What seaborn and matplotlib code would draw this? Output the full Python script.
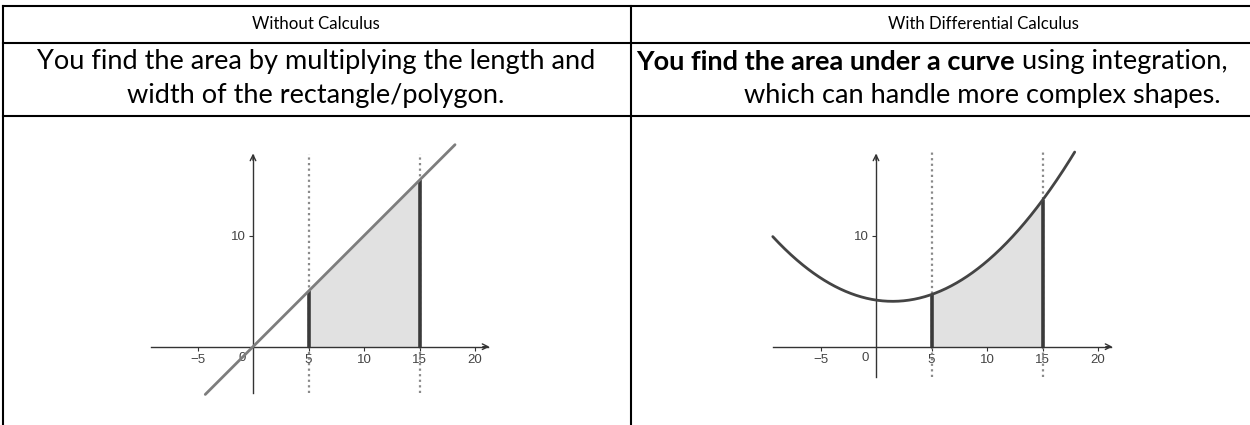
import numpy as np
import pandas as pd
import matplotlib
matplotlib.use("Agg")
import matplotlib.pyplot as plt
from matplotlib.lines import Line2D
import seaborn as sns

# ---- content ----
headers = ["Without Calculus", "With Differential Calculus"]
left_desc = ["You find the area by multiplying the length and",
             "width of the rectangle/polygon."]
right_desc_bold = "You find the area under a curve"
right_desc_rest = " using integration,"
right_desc_line2 = "which can handle more complex shapes."

# straight line y = slope * x (left panel)
line_slope = 1.0
line_x_range = [-4.3, 18.2]
# parabola y = a x^2 + b x + c (right panel)
curve_coeffs = [0.05, -0.15, 4.2]
curve_x_range = [-9.3, 17.9]
# integration bounds
bounds = [5, 15]
x_ticks = [-5, 5, 10, 15, 20]
y_ticks = [10]

W, H = 1250, 425
sns.set_theme(style="white")
plt.rcParams["font.family"] = ["Lato", "DejaVu Sans"]

fig = plt.figure(figsize=(W / 100, H / 100), dpi=100)
fig.patch.set_facecolor("white")
renderer = fig.canvas.get_renderer()


def fx(px):
    return px / W


def fy(py):
    return 1 - py / H


def size_for_width(s, width_px, **kw):
    """Font size at which string s renders width_px wide."""
    t = fig.text(0, 0, s, fontsize=20, **kw)
    w = t.get_window_extent(renderer).width
    t.remove()
    return 20 * width_px / w


def put(x_px, y_px, s, size, ha="center", **kw):
    return fig.text(fx(x_px), fy(y_px), s, ha=ha, va="center", color="black",
                    fontsize=size, **kw)


# ---- table grid ----
grid_kw = dict(color="black", lw=1.5, transform=fig.transFigure, solid_capstyle="projecting")
for y in (6, 43, 116):
    fig.add_artist(Line2D([fx(3), fx(W)], [fy(y), fy(y)], **grid_kw))
for x in (3, 631):
    fig.add_artist(Line2D([fx(x), fx(x)], [fy(6), fy(H)], **grid_kw))

# ---- text ----
head_size = size_for_width(headers[0], 128)
desc_size = size_for_width(left_desc[0], 561)

put(316, 24, headers[0], head_size)
put(983, 24, headers[1], head_size)
put(316, 62, left_desc[0], desc_size)
put(316, 95, left_desc[1], desc_size)
put(982, 95, right_desc_line2, desc_size)

tb = put(0, 62, right_desc_bold, desc_size, ha="left", fontweight="bold")
tr = put(0, 62, right_desc_rest, desc_size, ha="left")
wb = tb.get_window_extent(renderer).width
wr = tr.get_window_extent(renderer).width
x0 = 931.5 - (wb + wr) / 2
tb.set_x(fx(x0))
tr.set_x(fx(x0 + wb))

# ---- plot panels ----
px_per_unit = 11.1
axis_y_px = 346.7
tick_font = ["Liberation Sans", "DejaVu Sans"]
axis_color = "#333333"


def make_axes(left_px, right_px, origin_px):
    top_px, bot_px = 140, 410
    ax = fig.add_axes([fx(left_px), fy(bot_px), (right_px - left_px) / W, (bot_px - top_px) / H])
    ax.set_xlim((left_px - origin_px) / px_per_unit, (right_px - origin_px) / px_per_unit)
    ax.set_ylim((axis_y_px - bot_px) / px_per_unit, (axis_y_px - top_px) / px_per_unit)
    ax.patch.set_alpha(0)
    for s in ("top", "right"):
        ax.spines[s].set_visible(False)
    for s in ("left", "bottom"):
        ax.spines[s].set_position(("data", 0))
        ax.spines[s].set_color(axis_color)
        ax.spines[s].set_linewidth(1.0)
    ax.set_xticks(x_ticks)
    ax.set_yticks(y_ticks)
    ax.set_xticklabels([str(t).replace("-", "\u2212") for t in x_ticks])
    ax.set_yticklabels([str(t) for t in y_ticks])
    ax.tick_params(axis="both", which="major", bottom=True, left=True, direction="out",
                   length=3, width=0.8, color=axis_color, labelsize=9.5,
                   labelcolor="#444444", pad=2)
    for lab in ax.get_xticklabels() + ax.get_yticklabels():
        lab.set_fontfamily(tick_font)
    ax.text(-1.0, -0.45, "0", ha="center", va="top", fontsize=9.5, color="#444444",
            family=tick_font)
    return ax


def axis_arrows(ax, xlo, xhi, ylo, yhi):
    ax.spines["bottom"].set_bounds(xlo, xhi)
    ax.spines["left"].set_bounds(ylo, yhi)
    ap = dict(arrowstyle="->", color=axis_color, lw=1.0, mutation_scale=10, shrinkA=0, shrinkB=0)
    ax.annotate("", xy=(xhi + 0.1, 0), xytext=(xhi - 0.5, 0), arrowprops=ap)
    ax.annotate("", xy=(0, yhi + 0.1), xytext=(0, yhi - 0.5), arrowprops=ap)


def draw_bounds(ax, f, ylo, yhi):
    for b in bounds:
        ax.vlines(b, ylo, yhi, colors="#8a8a8a", linestyles=(0, (1, 1.5)), lw=1.6, zorder=1)
        ax.vlines(b, 0, f(b), colors="#3a3a3a", lw=2.6, zorder=4)


# left panel: straight line
axL = make_axes(130, 500, 253)
fL = lambda x: line_slope * np.asarray(x)
xs = np.linspace(bounds[0], bounds[1], 200)
axL.fill_between(xs, 0, fL(xs), color="#e1e1e1", lw=0, zorder=2)
draw_bounds(axL, fL, -4.2, 17.4)
dfL = pd.DataFrame({"x": line_x_range, "y": fL(line_x_range)})
sns.lineplot(data=dfL, x="x", y="y", ax=axL, color="#7d7d7d", lw=2.0, zorder=5)
axis_arrows(axL, -9.2, 21.2, -4.2, 17.3)
axL.set_xlabel("")
axL.set_ylabel("")

# right panel: parabola
axR = make_axes(750, 1130, 876)
fR = lambda x: np.polyval(curve_coeffs, np.asarray(x))
axR.fill_between(xs, 0, fR(xs), color="#e1e1e1", lw=0, zorder=2)
draw_bounds(axR, fR, -2.7, 17.5)
xc = np.linspace(curve_x_range[0], curve_x_range[1], 400)
dfR = pd.DataFrame({"x": xc, "y": fR(xc)})
sns.lineplot(data=dfR, x="x", y="y", ax=axR, color="#444444", lw=2.0, zorder=5)
axis_arrows(axR, -9.3, 21.2, -2.7, 17.3)
axR.set_xlabel("")
axR.set_ylabel("")

fig.savefig("out.png", dpi=100)
